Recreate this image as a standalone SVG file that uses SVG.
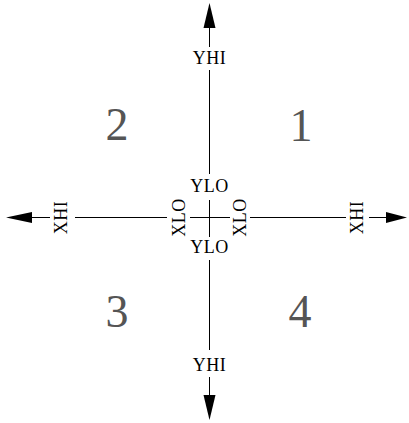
<svg xmlns="http://www.w3.org/2000/svg" width="409" height="423" viewBox="0 0 409 423">
<style>
.ln{stroke:#000;stroke-width:1;fill:none}
.ah{fill:#000;stroke:none}
.lb{font-family:"Liberation Serif",serif;font-size:18px;fill:#000;text-anchor:middle;letter-spacing:0.5px}
.q{font-family:"Liberation Serif",serif;font-size:46px;fill:#555;text-anchor:middle}
</style>
<rect width="409" height="423" fill="#fff"/>
<g id="connectors">
<path class="ln" d="M209.5,27V47M209.5,70V174M209.5,200V237M209.5,260V350M209.5,377V396"/>
<path class="ln" d="M31,217.5H50M75,217.5H167M190,217.5H230M250,217.5H346M369,217.5H387"/>
<polygon class="ah" points="209.5,3 203.5,28 215.5,28"/>
<polygon class="ah" points="209.5,420 203.5,395 215.5,395"/>
<polygon class="ah" points="6,217.5 32,212 32,223"/>
<polygon class="ah" points="407,217.5 386,212 386,223"/>
</g>
<g id="yhi-top"><text class="lb" x="209.5" y="64">YHI</text></g>
<g id="ylo-top"><text class="lb" x="209.5" y="192">YLO</text></g>
<g id="ylo-bottom"><text class="lb" x="209.5" y="253">YLO</text></g>
<g id="yhi-bottom"><text class="lb" x="209.5" y="371">YHI</text></g>
<g id="xhi-left"><text class="lb" transform="translate(61,217.5) rotate(-90)" x="0" y="6">XHI</text></g>
<g id="xlo-left"><text class="lb" transform="translate(178.5,217.5) rotate(-90)" x="0" y="6">XLO</text></g>
<g id="xlo-right"><text class="lb" transform="translate(240,217.5) rotate(-90)" x="0" y="6">XLO</text></g>
<g id="xhi-right"><text class="lb" transform="translate(357,217.5) rotate(-90)" x="0" y="6">XHI</text></g>
<g id="q1"><text class="q" x="301" y="141">1</text></g>
<g id="q2"><text class="q" x="117" y="140">2</text></g>
<g id="q3"><text class="q" x="117" y="327">3</text></g>
<g id="q4"><text class="q" x="300" y="327">4</text></g>
</svg>
